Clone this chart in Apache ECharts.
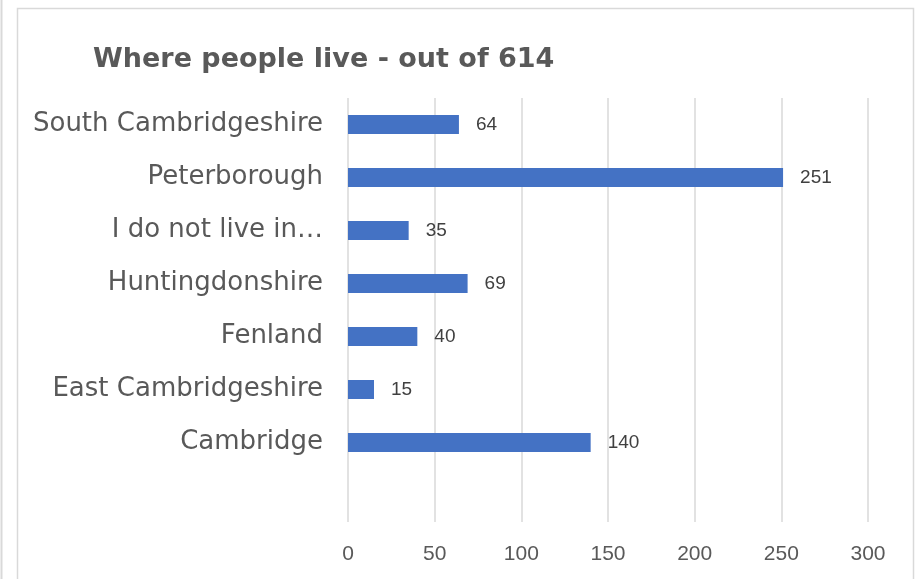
<!DOCTYPE html>
<html><head><meta charset="utf-8">
<style>html,body{margin:0;padding:0;background:#fff}#c{width:915px;height:579px}</style>
<script src="https://cdn.jsdelivr.net/npm/echarts@6/dist/echarts.min.js"></script>
</head><body><div id="c"></div>
<script>
// top-to-bottom order as shown; final '' is the empty band at the bottom
const categories = ['South Cambridgeshire','Peterborough','I do not live in\u2026','Huntingdonshire','Fenland','East Cambridgeshire','Cambridge',''];
const values = [64,251,35,69,40,15,140,null];
const xTicks = {min:0,max:300,interval:50};
const titleText = 'Where people live - out of 614';

const FONT = 'DejaVu Sans';
const chart = echarts.init(document.getElementById('c'));
chart.setOption({
  animation:false,
  backgroundColor:'#fff',
  title:{text:titleText,left:88,top:41,textStyle:{fontFamily:FONT,fontSize:27,fontWeight:'bold',color:'#595959'}},
  graphic:[
    {type:'line',shape:{x1:1.5,y1:0,x2:1.5,y2:579},style:{stroke:'#d9d9d9',lineWidth:2}},
    {type:'rect',shape:{x:17.5,y:8.5,width:896,height:600},style:{fill:'none',stroke:'#d9d9d9',lineWidth:1.5}}
  ],
  grid:{left:348,right:47,top:98,bottom:57},
  xAxis:{type:'value',min:xTicks.min,max:xTicks.max,interval:xTicks.interval,
    axisLine:{show:false},axisTick:{show:false},
    splitLine:{lineStyle:{color:'#d9d9d9',width:1.5}},
    axisLabel:{margin:22,fontFamily:'Liberation Sans',fontSize:21,color:'#595959'}},
  yAxis:{type:'category',inverse:true,data:categories,
    axisLine:{show:false},axisTick:{show:false},
    axisLabel:{margin:25,fontFamily:FONT,fontSize:26,color:'#595959',padding:[5,0,0,0]}},
  series:[{type:'bar',data:values,barWidth:19,itemStyle:{color:'#4472C4'},
    label:{show:true,position:'right',distance:17,fontFamily:'Liberation Sans',fontSize:19,color:'#404040',padding:[2,0,0,0]}}]
});
</script></body></html>
